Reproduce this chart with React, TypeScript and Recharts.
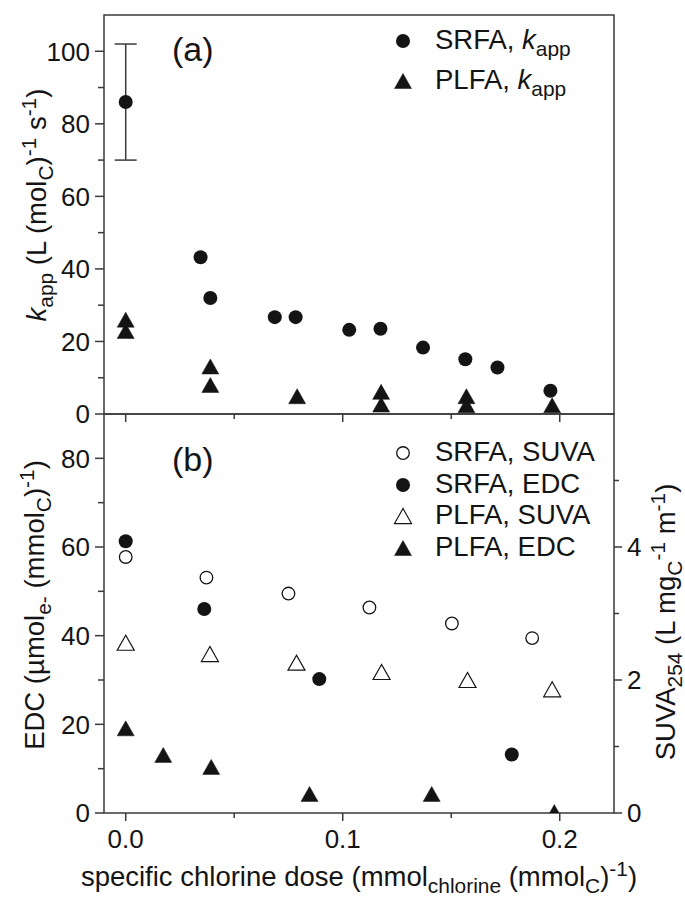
import React from 'react';
import { ScatterChart, Scatter, XAxis, YAxis, ReferenceArea, ErrorBar } from 'recharts';

const INK = '#141414';
const AXIS = '#3a3a3a';
const FONT = '"Liberation Sans", Arial, Helvetica, sans-serif';

// (a) apparent rate constants vs dose
const srfaKappDose = [0.0, 0.0345, 0.039, 0.0687, 0.0783, 0.103, 0.1174, 0.137, 0.1565, 0.1713, 0.1957];
const srfaKapp = [86, 43.2, 32.0, 26.7, 26.7, 23.2, 23.5, 18.3, 15.1, 12.8, 6.4];
const srfaKappErr = [16, null, null, null, null, null, null, null, null, null, null];
const plfaKappDose = [0.0, 0.0, 0.039, 0.039, 0.079, 0.1177, 0.1177, 0.157, 0.157, 0.1965];
const plfaKapp = [26.0, 22.9, 13.1, 8.0, 4.9, 6.1, 2.6, 4.9, 2.4, 2.4];

// (b) EDC (left axis) and SUVA (right axis) vs dose
const srfaSuvaDose = [0.0, 0.0372, 0.075, 0.1123, 0.1503, 0.1873];
const srfaSuva = [3.85, 3.54, 3.3, 3.09, 2.85, 2.63];
const srfaEdcDose = [0.0, 0.0362, 0.0892, 0.1779];
const srfaEdc = [61.3, 46.0, 30.2, 13.2];
const plfaSuvaDose = [0.0, 0.0388, 0.0787, 0.1179, 0.1575, 0.1965];
const plfaSuva = [2.56, 2.39, 2.26, 2.12, 2.0, 1.86];
const plfaEdcDose = [0.0, 0.0173, 0.0394, 0.0847, 0.141, 0.1975];
const plfaEdc = [19.1, 13.1, 10.4, 4.3, 4.3, 0.2];

const doseTicks = [0, 0.05, 0.1, 0.15, 0.2];
const kappTicks = [0, 10, 20, 30, 40, 50, 60, 70, 80, 90, 100];
const edcTicks = [0, 10, 20, 30, 40, 50, 60, 70, 80];
const suvaTicks = [0, 1, 2, 3, 4, 5];

const pts = (xs: number[], ys: number[], err?: (number | null)[]) =>
  xs.map((x, i) => ({ x, y: ys[i], err: err ? err[i] : undefined }));

// markers
const dot = (p: any) => <circle cx={p.cx} cy={p.cy} r={7} fill={INK} />;
const ring = (p: any) => <circle cx={p.cx} cy={p.cy} r={6.3} fill="#fff" stroke={INK} strokeWidth={1.3} />;
const tri = (cx: number, cy: number, filled: boolean) => (
  <polygon
    points={`${cx},${cy - 7.5} ${cx - 8.5},${cy + 7.5} ${cx + 8.5},${cy + 7.5}`}
    fill={filled ? INK : '#fff'}
    stroke={INK}
    strokeWidth={filled ? 0.5 : 1.2}
  />
);
const triFill = (p: any) => tri(p.cx, p.cy, true);
const triOpen = (p: any) => tri(p.cx, p.cy, false);

const txt = { fontSize: 26, fontFamily: FONT, fill: INK };

const doseTick = (labels: boolean) => (p: any) => {
  const v = p.payload.value;
  const major = Math.abs(v * 10 - Math.round(v * 10)) < 1e-6;
  return (
    <g>
      <line x1={p.x} x2={p.x} y1={p.y} y2={p.y + (major ? 8 : 5)} stroke={AXIS} strokeWidth={1.5} />
      {labels && major && (
        <text x={p.x} y={p.y + 35} textAnchor="middle" {...txt}>{v.toFixed(1)}</text>
      )}
    </g>
  );
};

const leftTick = (p: any) => {
  const v = p.payload.value;
  const major = v % 20 === 0;
  return (
    <g>
      <line x1={p.x - (major ? 9 : 6)} x2={p.x} y1={p.y} y2={p.y} stroke={AXIS} strokeWidth={1.5} />
      {major && <text x={p.x - 14} y={p.y + 9.3} textAnchor="end" {...txt}>{v}</text>}
    </g>
  );
};

const rightTick = (p: any) => {
  const v = p.payload.value;
  const major = v % 2 === 0;
  return (
    <g>
      <line x1={p.x} x2={p.x + (major ? 8 : 5)} y1={p.y} y2={p.y} stroke={AXIS} strokeWidth={1.5} />
      {major && <text x={p.x + 13} y={p.y + 9.3} textAnchor="start" {...txt}>{v}</text>}
    </g>
  );
};

const Sub = ({ children }: any) => (
  <span style={{ fontSize: '0.76em', position: 'relative', top: '0.32em' }}>{children}</span>
);
const Sup = ({ children }: any) => (
  <span style={{ fontSize: '0.76em', position: 'relative', top: '-0.48em' }}>{children}</span>
);

const FS = 27.5;
const LH = 32;
const baseOff = (LH - 1.117 * FS) / 2 + 0.905 * FS;

const abs = (left: number, top: number, extra: any = {}) => ({
  position: 'absolute' as const, left, top, whiteSpace: 'nowrap' as const, ...extra,
});

const rotated = (cx: number, cy: number) =>
  abs(cx, cy, { fontSize: FS, lineHeight: `${LH}px`, transform: 'translate(-50%, -50%) rotate(-90deg)' });

function LegendRow({ x, baseline, marker, children }: any) {
  const top = baseline - baseOff;
  return (
    <div style={abs(x - 12, top, { display: 'flex', height: LH, lineHeight: `${LH}px`, fontSize: FS })}>
      <svg width={24} height={LH} style={{ display: 'block' }}>{marker(12, baseOff - 8.5)}</svg>
      <span style={{ marginLeft: 20 }}>{children}</span>
    </div>
  );
}

const mDot = (x: number, y: number) => <circle cx={x} cy={y} r={7} fill={INK} />;
const mRing = (x: number, y: number) => <circle cx={x} cy={y} r={6.3} fill="#fff" stroke={INK} strokeWidth={1.3} />;
const mTri = (x: number, y: number) => tri(x, y, true);
const mTriOpen = (x: number, y: number) => tri(x, y, false);

export default function App() {
  return (
    <div style={{ position: 'absolute', left: 0, top: 0, width: 685, height: 901, background: '#fff', fontFamily: FONT, color: INK }}>
      <div style={{ position: 'absolute', left: 0, top: 0 }}>
        <ScatterChart width={685} height={901} margin={{ top: 15, right: 71, bottom: 486, left: 103 }}>
          <XAxis
            type="number" dataKey="x" domain={[-0.01, 0.225]} ticks={doseTicks} interval={0}
            height={1} tickSize={0} tickMargin={0} axisLine={false} tickLine={false}
            tick={doseTick(false)} allowDataOverflow
          />
          <YAxis
            type="number" dataKey="y" domain={[0, 110]} ticks={kappTicks} interval={0}
            width={1} tickSize={0} tickMargin={0} axisLine={false} tickLine={false}
            tick={leftTick} allowDataOverflow
          />
          <ReferenceArea x1={-0.01} x2={0.225} y1={0} y2={110} fill="none" stroke={AXIS} strokeWidth={1.5} />
          <Scatter data={pts(srfaKappDose, srfaKapp, srfaKappErr)} shape={dot} isAnimationActive={false}>
            <ErrorBar dataKey="err" direction="y" width={11} stroke={AXIS} strokeWidth={1.5} />
          </Scatter>
          <Scatter data={pts(plfaKappDose, plfaKapp)} shape={triFill} isAnimationActive={false} />
        </ScatterChart>
      </div>

      <div style={{ position: 'absolute', left: 0, top: 0 }}>
        <ScatterChart width={685} height={901} margin={{ top: 414, right: 70, bottom: 87, left: 103 }}>
          <XAxis
            type="number" dataKey="x" domain={[-0.01, 0.225]} ticks={doseTicks} interval={0}
            height={1} tickSize={0} tickMargin={0} axisLine={false} tickLine={false}
            tick={doseTick(true)} allowDataOverflow
          />
          <YAxis
            yAxisId="left" type="number" dataKey="y" domain={[0, 90]} ticks={edcTicks} interval={0}
            width={1} tickSize={0} tickMargin={0} axisLine={false} tickLine={false}
            tick={leftTick} allowDataOverflow
          />
          <YAxis
            yAxisId="right" orientation="right" type="number" dataKey="y" domain={[0, 6]} ticks={suvaTicks} interval={0}
            width={1} tickSize={0} tickMargin={0} axisLine={false} tickLine={false}
            tick={rightTick} allowDataOverflow
          />
          <ReferenceArea yAxisId="left" x1={-0.01} x2={0.225} y1={0} y2={90} fill="none" stroke={AXIS} strokeWidth={1.5} />
          <Scatter yAxisId="right" data={pts(srfaSuvaDose, srfaSuva)} shape={ring} isAnimationActive={false} />
          <Scatter yAxisId="left" data={pts(srfaEdcDose, srfaEdc)} shape={dot} isAnimationActive={false} />
          <Scatter yAxisId="right" data={pts(plfaSuvaDose, plfaSuva)} shape={triOpen} isAnimationActive={false} />
          <Scatter yAxisId="left" data={pts(plfaEdcDose, plfaEdc)} shape={triFill} isAnimationActive={false} />
        </ScatterChart>
      </div>

      {/* panel labels */}
      <div style={abs(172, 29, { fontSize: 34, lineHeight: '40px' })}>(a)</div>
      <div style={abs(172, 439, { fontSize: 34, lineHeight: '40px' })}>(b)</div>

      {/* legends */}
      <LegendRow x={403} baseline={50} marker={mDot}>SRFA, <i>k</i><Sub>app</Sub></LegendRow>
      <LegendRow x={403} baseline={90} marker={mTri}>PLFA, <i>k</i><Sub>app</Sub></LegendRow>
      <LegendRow x={403} baseline={462} marker={mRing}>SRFA, SUVA</LegendRow>
      <LegendRow x={403} baseline={493.5} marker={mDot}>SRFA, EDC</LegendRow>
      <LegendRow x={403} baseline={525} marker={mTriOpen}>PLFA, SUVA</LegendRow>
      <LegendRow x={403} baseline={556.5} marker={mTri}>PLFA, EDC</LegendRow>

      {/* axis titles */}
      <div style={rotated(38, 205)}>
        <i>k</i><Sub>app</Sub> (L (mol<Sub>C</Sub>)<Sup>-1</Sup> s<Sup>-1</Sup>)
      </div>
      <div style={rotated(36, 605)}>
        EDC (µmol<Sub>e-</Sub> (mmol<Sub>C</Sub>)<Sup>-1</Sup>)
      </div>
      <div style={rotated(667, 622)}>
        SUVA<Sub>254</Sub> (L mg<Sub>C</Sub><Sup>-1</Sup> m<Sup>-1</Sup>)
      </div>
      <div style={abs(359, 887 - baseOff, { fontSize: FS, lineHeight: `${LH}px`, transform: 'translateX(-50%)' })}>
        specific chlorine dose (mmol<Sub>chlorine</Sub> (mmol<Sub>C</Sub>)<Sup>-1</Sup>)
      </div>
    </div>
  );
}
